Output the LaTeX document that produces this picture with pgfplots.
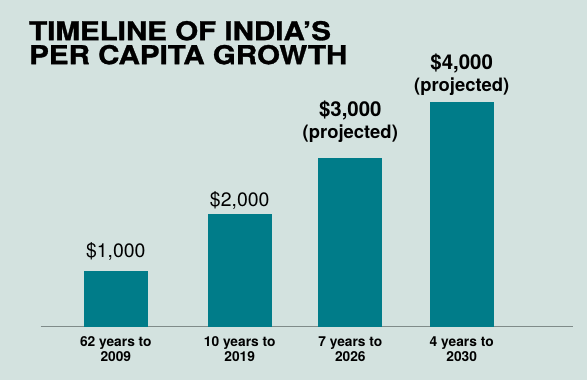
\documentclass[border=0pt]{standalone}
\usepackage{fontspec}
\setmainfont{TeX Gyre Heros}
\newfontfamily\titlefont[FakeStretch=1.14,FakeBold=1.2]{TeX Gyre Heros}
\usepackage{pgfplots}
\pgfplotsset{compat=1.18}
\definecolor{bg}{HTML}{D3E2DF}
\definecolor{barc}{HTML}{007C89}
\definecolor{axisgray}{HTML}{7F8B89}
\begin{document}
\begin{tikzpicture}[x=1bp,y=1bp]
\fill[bg] (0,0) rectangle (587,380);
\node[anchor=north west, inner sep=0pt, align=left, font=\titlefont\bfseries\fontsize{26}{24}\selectfont] at (29,359.3) {TIMELINE OF INDIA’S\\PER CAPITA GROWTH};
\begin{axis}[
  at={(0bp,53.3bp)}, anchor=south west,
  width=587bp, height=326.7bp, scale only axis,
  xmin=0, xmax=587, ymin=0, ymax=5803,
  axis line style={draw=none},
  ytick=\empty,
  xtick={115.8,239.7,350.3,461.7},
  xticklabels={{62 years to\\2009},{10 years to\\2019},{7 years to\\2026},{4 years to\\2030}},
  xticklabel style={align=center, font=\bfseries\fontsize{13.8}{15.5}\selectfont, anchor=north, inner sep=0pt, yshift=-9.3bp},
  major tick length=0pt,
  clip=false,
]
\addplot[draw=axisgray, line width=1.3bp] coordinates {(40.7,0) (573,0)};
\addplot[ybar, bar shift=0pt, bar width=64bp, fill=barc, draw=none,
  nodes near coords={\$1,000},
  nodes near coords style={anchor=south, inner sep=0pt, yshift=10bp, font=\fontsize{19.5}{22}\selectfont}]
  coordinates {(115.8,1000)};
\addplot[ybar, bar shift=0pt, bar width=64bp, fill=barc, draw=none,
  nodes near coords={\$2,000},
  nodes near coords style={anchor=south, inner sep=0pt, yshift=4.5bp, font=\fontsize{19.5}{22}\selectfont}]
  coordinates {(239.7,2000)};
\addplot[ybar, bar shift=0pt, bar width=64bp, fill=barc, draw=none,
  nodes near coords={{\fontsize{20.5}{22}\selectfont\$3,000}\\(projected)},
  nodes near coords style={align=center, anchor=south, inner sep=0pt, yshift=15bp, font=\bfseries\fontsize{18.5}{22}\selectfont}]
  coordinates {(350.3,3000)};
\addplot[ybar, bar shift=0pt, bar width=64bp, fill=barc, draw=none,
  nodes near coords={{\fontsize{20.5}{22}\selectfont\$4,000}\\(projected)},
  nodes near coords style={align=center, anchor=south, inner sep=0pt, yshift=5.7bp, font=\bfseries\fontsize{18.5}{22}\selectfont}]
  coordinates {(461.7,4000)};
\end{axis}
\end{tikzpicture}
\end{document}
